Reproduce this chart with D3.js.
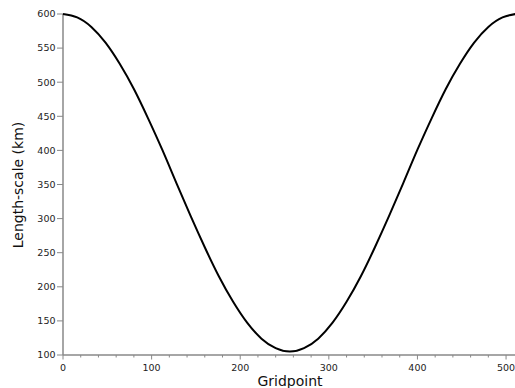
<!DOCTYPE html>
<html lang="en">
  <head>
    <script src="https://d3js.org/d3.v7.min.js"></script>
    <meta charset="utf-8">
    <style>
      body { margin: 0; background: #fff; }
      .axis text { font: 9.5px "DejaVu Sans", sans-serif; fill: #222; }
      .axis path, .axis line { stroke: #888; }
      .label { font: 14px "DejaVu Sans", sans-serif; fill: #111; }
    </style>
  </head>
  <body>
    <svg id="chart" width="515" height="388"></svg>
  </body>
</html>

<script>
    // gridpoint index and length-scale
    const gridpoints = [0, 16, 32, 48, 64, 80, 96, 112, 128, 144, 160, 176, 192, 208, 224, 240, 256,
                        272, 288, 304, 320, 336, 352, 368, 384, 400, 416, 432, 448, 464, 480, 496, 511];
    const lengthScale = [600, 595, 581, 558, 527, 490, 447, 401, 352, 304, 258, 215, 178, 147, 124, 110, 105,
                         110, 124, 147, 178, 215, 258, 304, 352, 401, 447, 490, 527, 558, 581, 595, 600];
    const xTicks = [0, 100, 200, 300, 400, 500];
    const yTicks = [100, 150, 200, 250, 300, 350, 400, 450, 500, 550, 600];

    const svg = d3.select("#chart");

    const x = d3.scaleLinear().domain([0, 511]).range([63, 515.8]);
    const y = d3.scaleLinear().domain([100, 600]).range([355, 14]);

    // x axis: major ticks every 100, minor every 20
    const xAxis = svg.append("g")
        .attr("class", "axis")
        .attr("transform", "translate(0,355)");
    xAxis.append("line")
        .attr("x1", 63).attr("x2", 515)
        .attr("stroke-width", 1.5);
    xAxis.selectAll(".minor")
        .data(d3.range(20, 511, 20).filter(d => d % 100 !== 0))
        .enter().append("line")
        .attr("x1", d => x(d)).attr("x2", d => x(d))
        .attr("y1", 0).attr("y2", 2.5)
        .attr("stroke-width", 1);
    xAxis.selectAll(".major")
        .data(xTicks)
        .enter().append("line")
        .attr("x1", d => x(d)).attr("x2", d => x(d))
        .attr("y1", 0).attr("y2", 4.5)
        .attr("stroke-width", 1);
    xAxis.selectAll("text")
        .data(xTicks)
        .enter().append("text")
        .attr("x", d => x(d))
        .attr("y", 15.5)
        .attr("text-anchor", "middle")
        .text(d => d);

    // y axis
    const yAxis = svg.append("g")
        .attr("class", "axis");
    yAxis.append("line")
        .attr("x1", 63).attr("x2", 63)
        .attr("y1", 14).attr("y2", 355)
        .attr("stroke-width", 1.5);
    yAxis.selectAll(".tick")
        .data(yTicks)
        .enter().append("line")
        .attr("x1", 57).attr("x2", 63)
        .attr("y1", d => y(d)).attr("y2", d => y(d))
        .attr("stroke-width", 1);
    yAxis.selectAll("text")
        .data(yTicks)
        .enter().append("text")
        .attr("x", 55.5)
        .attr("y", d => y(d) + 3.3)
        .attr("text-anchor", "end")
        .text(d => d);

    // curve
    const line = d3.line()
        .x((d, i) => x(gridpoints[i]))
        .y(d => y(d))
        .curve(d3.curveNatural);

    svg.append("path")
        .datum(lengthScale)
        .attr("d", line)
        .attr("fill", "none")
        .attr("stroke", "#000")
        .attr("stroke-width", 2);

    // axis titles
    svg.append("text")
        .attr("class", "label")
        .attr("x", 290)
        .attr("y", 386)
        .attr("text-anchor", "middle")
        .text("Gridpoint");

    svg.append("text")
        .attr("class", "label")
        .attr("transform", "translate(23,185) rotate(-90)")
        .attr("text-anchor", "middle")
        .text("Length-scale (km)");
</script>
